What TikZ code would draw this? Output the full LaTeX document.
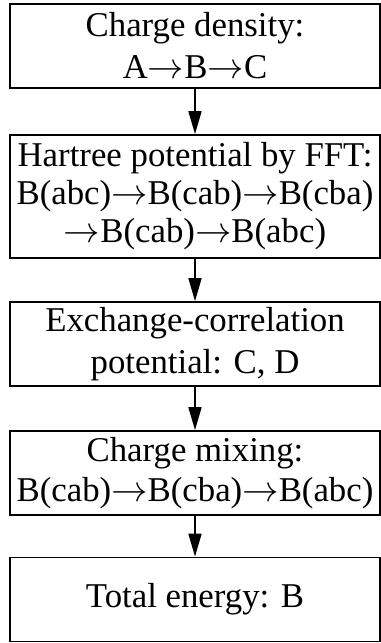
\documentclass[tikz,border=0pt]{standalone}
\usepackage{fontspec}
\setmainfont{Liberation Serif}
\usetikzlibrary{arrows.meta}
\newcommand{\toarrow}{$\rightarrow$}
\tikzset{
  box/.style={draw, line width=1pt, minimum width=7.4cm, minimum height=1.68cm,
    align=center, inner sep=0pt, font=\fontsize{19.8}{23.9}\selectfont},
  flow/.style={-{Triangle[length=4.6mm, width=2.6mm]}, line width=1pt}
}
\begin{document}
\begin{tikzpicture}[x=0.02cm, y=-0.02cm]
      \useasboundingbox (0,0) rectangle (381,643);
      \draw
        (195,46) node[box] (1){Charge density:\\ A\toarrow B\toarrow C}
        (195,196.5) node[box, minimum height=2.46cm,
          font=\fontsize{19.8}{21.6}\selectfont] (2){Hartree potential by FFT:\\ B(abc)\toarrow B(cab)\toarrow B(cba)\\ \toarrow B(cab)\toarrow B(abc)}
        (195,344) node[box] (3){Exchange-correlation\\ potential: C, D}
        (195,473) node[box, font=\fontsize{19.8}{22.8}\selectfont] (4){Charge mixing:\\ B(cab)\toarrow B(cba)\toarrow B(abc)}
        (195,599.5) node[box] (5){Total energy: B};
      \begin{scope}[flow]
        \draw (1) to (2);
        \draw (2) to (3);
        \draw (3) to (4);
        \draw (4) to (5);
      \end{scope}
    \end{tikzpicture}
\end{document}
